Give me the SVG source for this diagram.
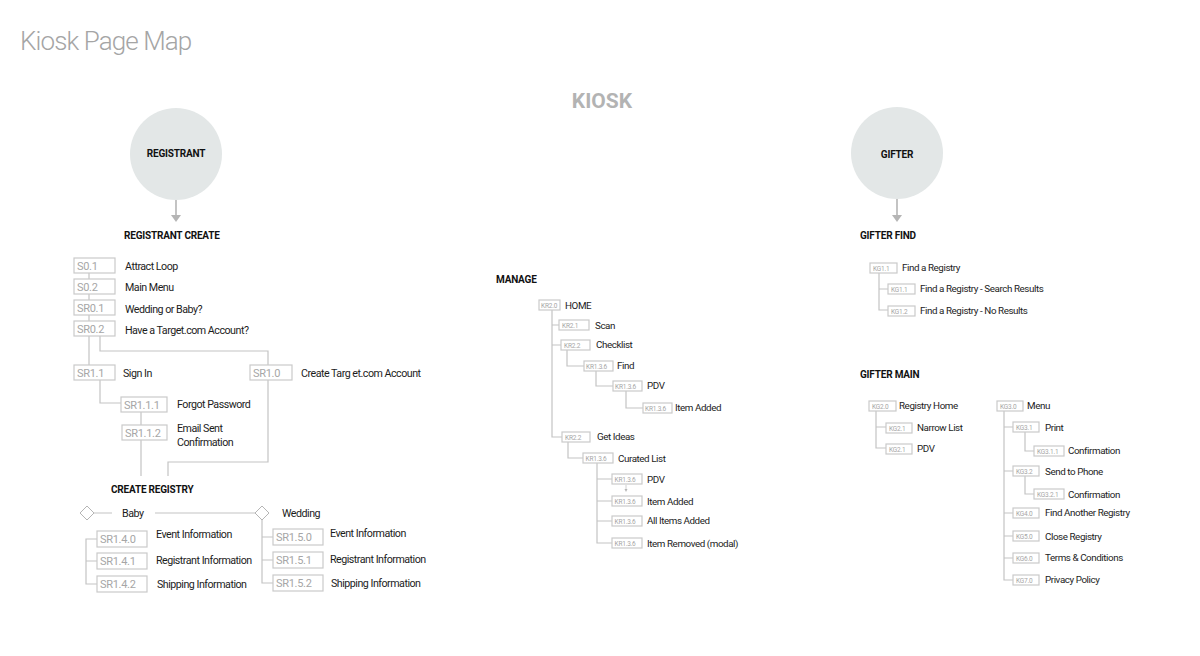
<svg xmlns="http://www.w3.org/2000/svg" width="1200" height="656" viewBox="0 0 1200 656">
<style>
text{font-family:Roboto,"Liberation Sans",sans-serif}
.box{fill:#fff;stroke:#cacaca;stroke-width:1.2}
.code{font-size:11px;fill:#a6a6a6;letter-spacing:-0.3px}
.cs{font-size:6.5px;fill:#a6a6a6;letter-spacing:-0.2px}
.lbl{font-size:10.7px;fill:#1c1c1c;letter-spacing:-0.5px}
.lg{font-size:9.8px;fill:#1c1c1c;letter-spacing:-0.42px}
.hd{font-size:10px;font-weight:bold;fill:#111;letter-spacing:-0.2px}
.ln{stroke:#c4c4c4;stroke-width:1.2;fill:none}
.circ{fill:#e3e7e7}
.arr{fill:#b5b5b5}
</style>
<rect width="1200" height="656" fill="#fff"/>
<text x="20" y="50" style="font-size:26px;font-weight:300;fill:#a5a5a5;letter-spacing:-0.9px">Kiosk Page Map</text>
<text x="602" y="108" text-anchor="middle" style="font-size:21px;font-weight:bold;fill:#b3b3b3">KIOSK</text>

<g id="connectors">
  <line class="ln" x1="176" y1="200" x2="176" y2="216" style="stroke:#b5b5b5;stroke-width:1.6"/>
  <polygon class="arr" points="171,215 181,215 176,222"/>
  <line class="ln" x1="897" y1="199" x2="897" y2="216" style="stroke:#b5b5b5;stroke-width:1.6"/>
  <polygon class="arr" points="892,215 902,215 897,222"/>
  <path class="ln" d="M89 273V279M89 294V300M89 315V321M89 336V365"/>
  <path class="ln" d="M100 336V351H268V365"/>
  <path class="ln" d="M100 380V403H121"/>
  <path class="ln" d="M141 412V425M141 440V476"/>
  <path class="ln" d="M268 380V462H168V476"/>
  <path class="ln" d="M94 513H112M155 513H255"/>
  <path class="ln" d="M97 539H86V584H97M86 561H97"/>
  <path class="ln" d="M262 520V583H273M262 537H273M262 560H273"/>
  <path class="ln" d="M552 310V437H562M552 325H559M552 345H561"/>
  <path class="ln" d="M567 350V366H584M596 371V386H613M626 391V408H643"/>
  <path class="ln" d="M568 442V458H583"/>
  <path class="ln" d="M597 463V543H612M597 479H612M597 501H612M597 521H612"/>
  <path class="ln" d="M626 485V489" style="stroke-width:0.8"/>
  <polygon class="arr" points="624.5,489 627.5,489 626,492"/>
  <path class="ln" d="M879 273V310H888M879 289H888"/>
  <path class="ln" d="M876 411V448H886M876 427H886"/>
  <path class="ln" d="M1004 411V580H1013M1004 427H1013M1004 471H1013M1004 513H1013M1004 536H1013M1004 558H1013"/>
  <path class="ln" d="M1025 432V451H1034M1025 476V494H1034"/>
</g>

<g id="registrant"><circle class="circ" cx="176" cy="154" r="46"/><text class="hd" x="176" y="157" text-anchor="middle">REGISTRANT</text></g>
<g id="gifter"><circle class="circ" cx="897" cy="153" r="46"/><text class="hd" x="897" y="158" text-anchor="middle">GIFTER</text></g>

<g id="registrant-create"><text class="hd" x="124" y="239">REGISTRANT CREATE</text></g>
<g id="S0.1"><rect class="box" x="74" y="258" width="41" height="15"/><text class="code" x="77" y="270">S0.1</text><text class="lbl" x="125" y="270">Attract Loop</text></g>
<g id="S0.2"><rect class="box" x="74" y="279" width="41" height="15"/><text class="code" x="77" y="291">S0.2</text><text class="lbl" x="125" y="291">Main Menu</text></g>
<g id="SR0.1"><rect class="box" x="74" y="300" width="41" height="15"/><text class="code" x="77" y="312">SR0.1</text><text class="lbl" x="125" y="313">Wedding or Baby?</text></g>
<g id="SR0.2"><rect class="box" x="74" y="321" width="41" height="15"/><text class="code" x="77" y="333">SR0.2</text><text class="lbl" x="125" y="334">Have a Target.com Account?</text></g>
<g id="SR1.1"><rect class="box" x="74" y="365" width="41" height="15"/><text class="code" x="77" y="377">SR1.1</text><text class="lbl" x="123" y="377">Sign In</text></g>
<g id="SR1.0"><rect class="box" x="250" y="365" width="42" height="15"/><text class="code" x="253" y="377">SR1.0</text><text class="lbl" x="301" y="377">Create Targ et.com Account</text></g>
<g id="SR1.1.1"><rect class="box" x="121" y="397" width="46" height="15"/><text class="code" x="124" y="409">SR1.1.1</text><text class="lbl" x="177" y="408">Forgot Password</text></g>
<g id="SR1.1.2"><rect class="box" x="122" y="425" width="45" height="15"/><text class="code" x="125" y="437">SR1.1.2</text><text class="lbl" x="177" y="432">Email Sent</text><text class="lbl" x="177" y="446">Confirmation</text></g>

<g id="create-registry"><text class="hd" x="111" y="493">CREATE REGISTRY</text></g>
<g id="baby"><polygon points="87,506 94,513 87,520 80,513" fill="#fff" stroke="#b5b5b5" stroke-width="1"/><text class="lbl" x="122" y="517">Baby</text></g>
<g id="wedding"><polygon points="262,506 269,513 262,520 255,513" fill="#fff" stroke="#b5b5b5" stroke-width="1"/><text class="lbl" x="282" y="517">Wedding</text></g>
<g id="SR1.4.0"><rect class="box" x="97" y="531" width="50" height="16"/><text class="code" x="100" y="543">SR1.4.0</text><text class="lbl" x="156" y="538">Event Information</text></g>
<g id="SR1.4.1"><rect class="box" x="97" y="553" width="50" height="16"/><text class="code" x="100" y="565">SR1.4.1</text><text class="lbl" x="156" y="564">Registrant Information</text></g>
<g id="SR1.4.2"><rect class="box" x="97" y="576" width="50" height="16"/><text class="code" x="100" y="588">SR1.4.2</text><text class="lbl" x="157" y="588">Shipping Information</text></g>
<g id="SR1.5.0"><rect class="box" x="273" y="529" width="50" height="16"/><text class="code" x="276" y="541">SR1.5.0</text><text class="lbl" x="330" y="537">Event Information</text></g>
<g id="SR1.5.1"><rect class="box" x="273" y="552" width="50" height="16"/><text class="code" x="276" y="564">SR1.5.1</text><text class="lbl" x="330" y="563">Registrant Information</text></g>
<g id="SR1.5.2"><rect class="box" x="273" y="575" width="50" height="16"/><text class="code" x="276" y="587">SR1.5.2</text><text class="lbl" x="331" y="587">Shipping Information</text></g>

<g id="manage"><text class="hd" x="496" y="283">MANAGE</text></g>
<g id="KR2.0"><rect class="box" x="539" y="300" width="21" height="10"/><text class="cs" x="541" y="307.5">KR2.0</text><text class="lg" x="565" y="309">HOME</text></g>
<g id="KR2.1"><rect class="box" x="559" y="320" width="30" height="10"/><text class="cs" x="562" y="327.5">KR2.1</text><text class="lg" x="595" y="329">Scan</text></g>
<g id="KR2.2-checklist"><rect class="box" x="561" y="340" width="29" height="10"/><text class="cs" x="564" y="347.5">KR2.2</text><text class="lg" x="596" y="348">Checklist</text></g>
<g id="find"><rect class="box" x="584" y="361" width="29" height="10"/><text class="cs" x="586" y="368.5">KR1.3.6</text><text class="lg" x="617" y="369">Find</text></g>
<g id="find-pdv"><rect class="box" x="613" y="381" width="29" height="10"/><text class="cs" x="615" y="388.5">KR1.3.6</text><text class="lg" x="647" y="389">PDV</text></g>
<g id="find-item-added"><rect class="box" x="643" y="403" width="29" height="10"/><text class="cs" x="645" y="410.5">KR1.3.6</text><text class="lg" x="675" y="411">Item Added</text></g>
<g id="KR2.2-get-ideas"><rect class="box" x="562" y="432" width="28" height="10"/><text class="cs" x="565" y="439.5">KR2.2</text><text class="lg" x="597" y="440">Get Ideas</text></g>
<g id="curated-list"><rect class="box" x="583" y="453" width="30" height="10"/><text class="cs" x="585.5" y="460.5">KR1.3.6</text><text class="lg" x="618" y="462">Curated List</text></g>
<g id="curated-pdv"><rect class="box" x="612" y="474" width="30" height="10"/><text class="cs" x="614.5" y="481.5">KR1.3.6</text><text class="lg" x="647" y="483">PDV</text></g>
<g id="curated-item-added"><rect class="box" x="612" y="496" width="30" height="10"/><text class="cs" x="614.5" y="503.5">KR1.3.6</text><text class="lg" x="647" y="505">Item Added</text></g>
<g id="all-items-added"><rect class="box" x="612" y="516" width="30" height="10"/><text class="cs" x="614.5" y="523.5">KR1.3.6</text><text class="lg" x="647" y="524">All Items Added</text></g>
<g id="item-removed"><rect class="box" x="612" y="538" width="30" height="10"/><text class="cs" x="614.5" y="545.5">KR1.3.6</text><text class="lg" x="647" y="547">Item Removed (modal)</text></g>

<g id="gifter-find"><text class="hd" x="860" y="239">GIFTER FIND</text></g>
<g id="KG1.1"><rect class="box" x="870" y="263" width="27" height="10"/><text class="cs" x="873" y="270.5">KG1.1</text><text class="lg" x="902" y="271">Find a Registry</text></g>
<g id="KG1.1-results"><rect class="box" x="888" y="284" width="27" height="10"/><text class="cs" x="891" y="291.5">KG1.1</text><text class="lg" x="920" y="292">Find a Registry - Search Results</text></g>
<g id="KG1.2"><rect class="box" x="888" y="306" width="27" height="10"/><text class="cs" x="891" y="313.5">KG1.2</text><text class="lg" x="920" y="314">Find a Registry - No Results</text></g>

<g id="gifter-main"><text class="hd" x="860" y="378">GIFTER MAIN</text></g>
<g id="KG2.0"><rect class="box" x="869" y="401" width="27" height="10"/><text class="cs" x="872" y="408.5">KG2.0</text><text class="lg" x="899" y="409">Registry Home</text></g>
<g id="KG2.1-narrow"><rect class="box" x="886" y="423" width="26" height="10"/><text class="cs" x="889" y="430.5">KG2.1</text><text class="lg" x="917" y="431">Narrow List</text></g>
<g id="KG2.1-pdv"><rect class="box" x="886" y="444" width="26" height="10"/><text class="cs" x="889" y="451.5">KG2.1</text><text class="lg" x="917" y="452">PDV</text></g>
<g id="KG3.0"><rect class="box" x="997" y="401" width="26" height="10"/><text class="cs" x="1000" y="408.5">KG3.0</text><text class="lg" x="1027" y="409">Menu</text></g>
<g id="KG3.1"><rect class="box" x="1013" y="422" width="26" height="10"/><text class="cs" x="1016" y="429.5">KG3.1</text><text class="lg" x="1045" y="431">Print</text></g>
<g id="KG3.1.1"><rect class="box" x="1034" y="446" width="30" height="10"/><text class="cs" x="1037" y="453.5">KG3.1.1</text><text class="lg" x="1068" y="454">Confirmation</text></g>
<g id="KG3.2"><rect class="box" x="1013" y="466" width="26" height="10"/><text class="cs" x="1016" y="473.5">KG3.2</text><text class="lg" x="1045" y="475">Send to Phone</text></g>
<g id="KG3.2.1"><rect class="box" x="1034" y="489" width="30" height="10"/><text class="cs" x="1037" y="496.5">KG3.2.1</text><text class="lg" x="1068" y="498">Confirmation</text></g>
<g id="KG4.0"><rect class="box" x="1013" y="508" width="26" height="10"/><text class="cs" x="1016" y="515.5">KG4.0</text><text class="lg" x="1045" y="516">Find Another Registry</text></g>
<g id="KG5.0"><rect class="box" x="1013" y="531" width="26" height="10"/><text class="cs" x="1016" y="538.5">KG5.0</text><text class="lg" x="1045" y="540">Close Registry</text></g>
<g id="KG6.0"><rect class="box" x="1013" y="553" width="26" height="10"/><text class="cs" x="1016" y="560.5">KG6.0</text><text class="lg" x="1045" y="561">Terms &amp; Conditions</text></g>
<g id="KG7.0"><rect class="box" x="1013" y="575" width="26" height="10"/><text class="cs" x="1016" y="582.5">KG7.0</text><text class="lg" x="1045" y="583">Privacy Policy</text></g>
</svg>
